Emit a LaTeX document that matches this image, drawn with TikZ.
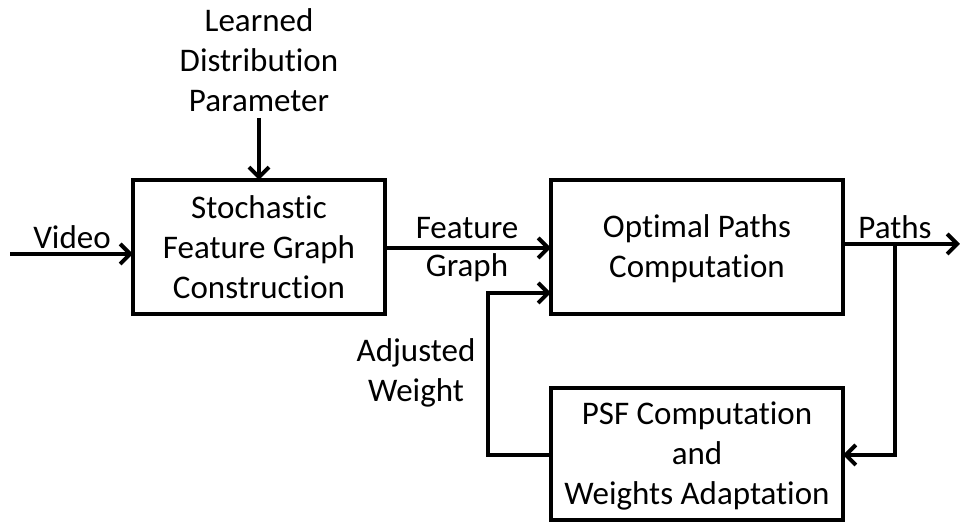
\documentclass[tikz,border=0pt]{standalone}
\usepackage{fontspec}
\setmainfont{Carlito}[Ligatures={NoCommon,NoContextual}]
\usetikzlibrary{arrows.meta}
\begin{document}
\begin{tikzpicture}[x=0.5pt,y=-0.5pt,
  lbl/.style={align=center,inner sep=0,font=\fontsize{16.5}{20}\selectfont},
  frame/.style={line width=2pt},
  flow/.style={line width=2pt,-{Straight Barb[length=5pt,width=10pt,line width=2pt]}}]
\useasboundingbox (0,0) rectangle (960,522);
% blocks
\draw[frame] (133,180) rectangle (385,314);
\node[lbl] (sfg) at (259,247) {Stochastic\\Feature Graph\\Construction};
\draw[frame] (551,180) rectangle (843,314);
\node[lbl] (opc) at (697,249) {Optimal Paths\\Computation};
\draw[frame] (551,388) rectangle (843,520);
\node[lbl] (psf) at (697,456) {PSF Computation\\and\\Weights Adaptation};
% anchor points on block borders
\coordinate (sfgL) at (133,254);
\coordinate (sfgT) at (259,180);
\coordinate (sfgR) at (385,248);
\coordinate (opcL) at (551,248);
\coordinate (opcL2) at (551,293);
\coordinate (opcR) at (843,244);
\coordinate (psfL) at (551,455);
\coordinate (psfR) at (843,455);
\coordinate (vin) at (10,254);
\coordinate (pin) at (259,118);
\coordinate (pout) at (960,244);
\coordinate (split) at (895,244);
% labels
\node[lbl] (ldp) at (259,60) {Learned\\Distribution\\Parameter};
\node[lbl] (vid) at (72,237) {Video};
\node[lbl] (fg1) at (467,228) {Feature};
\node[lbl] (fg2) at (467,268) {Graph};
\node[lbl] (pth) at (895,227) {Paths};
\node[lbl] (adj) at (416,373) {Adjusted\\Weight};
% connectors
\draw[flow] (vin) -- (sfgL);
\draw[flow] (pin) -- (sfgT);
\draw[flow] (sfgR) -- (opcL);
\draw[flow] (opcR) -- (pout);
\draw[flow] (split) |- (psfR);
\draw[flow] (psfL) -| (488,293) -- (opcL2);
\end{tikzpicture}
\end{document}
